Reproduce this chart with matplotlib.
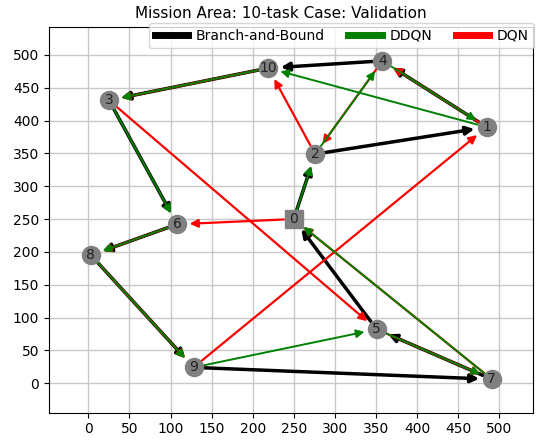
import numpy as np
import matplotlib
matplotlib.use('Agg')
import matplotlib.pyplot as plt
from matplotlib.lines import Line2D

# task locations (index 0 = depot)
node_x = [250, 485, 276, 25, 358, 351, 108, 491, 3, 128, 219]
node_y = [250, 390, 349, 431, 491, 82, 242, 6, 195, 24, 480]

# tours
bnb_route  = [0, 2, 1, 4, 10, 3, 6, 8, 9, 7, 5, 0]
ddqn_route = [0, 2, 4, 1, 10, 3, 6, 8, 9, 5, 7, 0]
dqn_route  = [0, 6, 8, 9, 1, 4, 2, 10, 3, 5, 7, 0]

labels = ['Branch-and-Bound', 'DDQN', 'DQN']
ticks = list(range(0, 501, 50))

fig = plt.figure(figsize=(5.42, 4.43), dpi=100)
ax = fig.add_axes([0.0904, 0.0684, 0.8926, 0.8713])

def draw_route(route, color, lw, z):
    for a, b in zip(route[:-1], route[1:]):
        ax.annotate('', xy=(node_x[b], node_y[b]), xytext=(node_x[a], node_y[a]),
                    arrowprops=dict(arrowstyle='-|>', color=color, lw=lw,
                                    mutation_scale=12, shrinkA=7, shrinkB=9),
                    zorder=z)

draw_route(bnb_route, 'black', 2.5, 3)
draw_route(dqn_route, 'red', 1.6, 4)
draw_route(ddqn_route, 'green', 1.4, 5)

# nodes
for i in range(len(node_x)):
    mk = 's' if i == 0 else 'o'
    ax.plot(node_x[i], node_y[i], marker=mk, markersize=13, color='gray',
            linestyle='none', zorder=6)
    ax.text(node_x[i], node_y[i], str(i), ha='center', va='center',
            fontsize=10, color='#222222', zorder=7)

ax.set_xlim(-48, 541)
ax.set_ylim(-45, 543)
ax.set_xticks(ticks)
ax.set_yticks(ticks)
ax.grid(True, color='#c8c8c8', lw=1)
ax.set_axisbelow(True)
ax.set_title('Mission Area: 10-task Case: Validation', fontsize=11, x=0.48)

handles = [Line2D([0], [0], color=c, lw=5) for c in ['black', 'green', 'red']]
ax.legend(handles, labels, loc='upper right', ncol=3, bbox_to_anchor=(1.003, 1.009),
          borderaxespad=0, fontsize=10, handlelength=2.4, handletextpad=0.55,
          columnspacing=1.7, borderpad=0.4)

fig.savefig('out.png', dpi=100)
